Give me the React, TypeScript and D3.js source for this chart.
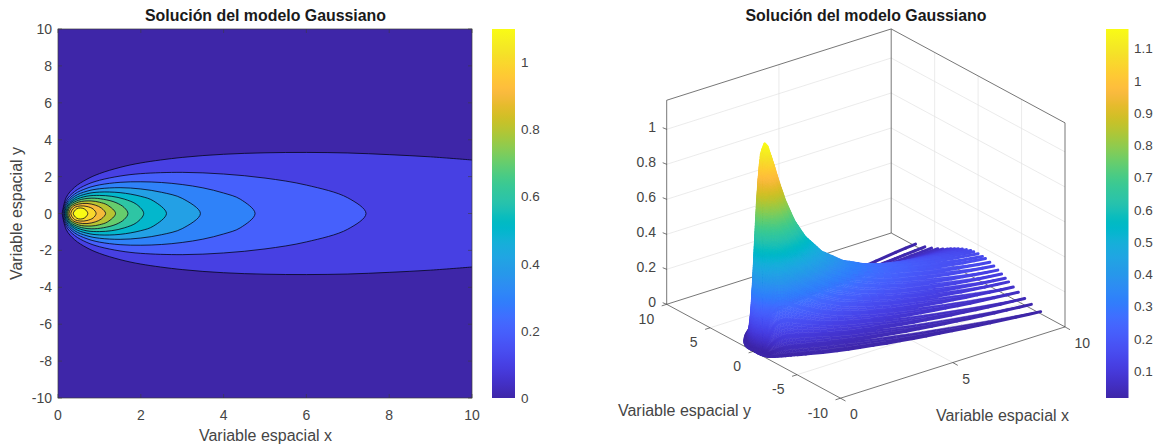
import React from "react";
import * as d3 from "d3";

// ---------- colour map ----------
const parula: number[][] = [
[0.2422,0.1504,0.6603],[0.2504,0.1650,0.7076],[0.2578,0.1818,0.7511],[0.2647,0.1978,0.7952],
[0.2706,0.2147,0.8364],[0.2751,0.2342,0.8710],[0.2783,0.2559,0.8991],[0.2803,0.2782,0.9221],
[0.2813,0.3006,0.9414],[0.2810,0.3228,0.9579],[0.2795,0.3447,0.9717],[0.2760,0.3667,0.9829],
[0.2699,0.3892,0.9906],[0.2602,0.4123,0.9952],[0.2440,0.4358,0.9988],[0.2206,0.4603,0.9973],
[0.1963,0.4847,0.9892],[0.1834,0.5074,0.9798],[0.1786,0.5289,0.9682],[0.1764,0.5499,0.9520],
[0.1687,0.5703,0.9359],[0.1540,0.5902,0.9218],[0.1460,0.6091,0.9079],[0.1380,0.6276,0.8973],
[0.1248,0.6459,0.8883],[0.1113,0.6635,0.8763],[0.0952,0.6798,0.8598],[0.0689,0.6948,0.8394],
[0.0297,0.7082,0.8163],[0.0036,0.7203,0.7917],[0.0067,0.7312,0.7660],[0.0433,0.7411,0.7394],
[0.0964,0.7500,0.7120],[0.1408,0.7584,0.6842],[0.1717,0.7670,0.6554],[0.1938,0.7758,0.6251],
[0.2161,0.7843,0.5923],[0.2470,0.7918,0.5567],[0.2906,0.7973,0.5188],[0.3406,0.8008,0.4789],
[0.3909,0.8029,0.4354],[0.4456,0.8024,0.3909],[0.5044,0.7993,0.3480],[0.5616,0.7942,0.3045],
[0.6174,0.7876,0.2612],[0.6720,0.7793,0.2227],[0.7242,0.7698,0.1910],[0.7738,0.7598,0.1646],
[0.8203,0.7498,0.1535],[0.8634,0.7406,0.1596],[0.9035,0.7330,0.1774],[0.9393,0.7288,0.2100],
[0.9728,0.7298,0.2394],[0.9956,0.7434,0.2371],[0.9970,0.7659,0.2199],[0.9952,0.7893,0.2028],
[0.9892,0.8136,0.1885],[0.9786,0.8386,0.1766],[0.9676,0.8639,0.1643],[0.9610,0.8890,0.1537],
[0.9597,0.9135,0.1423],[0.9628,0.9373,0.1265],[0.9691,0.9606,0.1064],[0.9769,0.9839,0.0805],
];

// ---------- left chart: contour levels and their upper half outlines [x, y] ----------
const contourLevels = [0.1, 0.2, 0.3, 0.4, 0.5, 0.6, 0.7, 0.8, 0.9, 1.0, 1.1];
const contourUpper: number[][][] = [
  [[0.1,0],[0.2,0.88],[0.4,1.42],[0.7,1.86],[1,2.16],[1.5,2.5],[2,2.74],[3,3.04],[4,3.21],[5,3.29],[6,3.31],[7,3.28],[8,3.19],[9,3.07],[10,2.9]],
  [[0.12,0],[0.2,0.7],[0.4,1.19],[0.7,1.57],[1,1.8],[1.5,2.03],[2,2.16],[3,2.23],[4,2.14],[5,1.92],[6,1.54],[7,0.85],[7.44,0]],
  [[0.137,0],[0.2,0.56],[0.4,1.05],[0.7,1.37],[1,1.55],[1.5,1.69],[2,1.72],[2.5,1.68],[3,1.57],[3.5,1.39],[4,1.11],[4.4,0.78],[4.76,0]],
  [[0.155,0],[0.2,0.445],[0.4,0.93],[0.7,1.21],[1,1.34],[1.5,1.4],[2,1.33],[2.5,1.15],[3,0.82],[3.44,0]],
  [[0.17,0],[0.2,0.33],[0.4,0.82],[0.7,1.07],[1,1.16],[1.5,1.13],[2,0.93],[2.3,0.69],[2.62,0]],
  [[0.19,0],[0.25,0.43],[0.4,0.72],[0.7,0.94],[1,0.98],[1.3,0.93],[1.6,0.78],[1.9,0.49],[2.07,0]],
  [[0.21,0],[0.3,0.47],[0.5,0.72],[0.8,0.83],[1.1,0.77],[1.4,0.59],[1.6,0.32],[1.69,0]],
  [[0.235,0],[0.3,0.37],[0.5,0.62],[0.8,0.68],[1,0.61],[1.2,0.45],[1.39,0]],
  [[0.265,0],[0.35,0.36],[0.5,0.51],[0.7,0.545],[0.9,0.455],[1.05,0.29],[1.15,0]],
  [[0.31,0],[0.4,0.32],[0.55,0.41],[0.7,0.38],[0.85,0.24],[0.92,0]],
  [[0.37,0],[0.45,0.25],[0.55,0.3],[0.65,0.23],[0.72,0]],
];

// ---------- right chart: surface strips ----------
const stripSampleX = [0.04,0.08,0.12,0.16,0.2,0.25,0.3,0.4,0.5,0.6,0.8,1,1.3,1.7,2.2,3,4,5,6,7,8,9,10];
const stripSpread = [0.11,0.145,0.17,0.191,0.209,0.229,0.246,0.276,0.302,0.325,0.364,0.398,0.442,0.492,0.546,0.618,0.693,0.758,0.815,0.867,0.915,0.959,1];
const stripEndY = [0,0.5,0.85,1.35,1.81,2.27,2.7,3.13,3.51,4.05,4.63,5.36,6.13,7.2];
const stripSolidUntil = [7,7,7,7,7,6,6,6,6,6,5,4,3,2.2];
const stripZ: number[][] = [
[.000,.038,.204,.434,.648,.855,.995,1.132,1.163,1.144,1.057,.958,.827,.692,.572,.446,.349,.286,.242,.210,.186,.166,.150],
[.000,.037,.198,.422,.631,.834,.971,1.106,1.137,1.120,1.036,.940,.812,.680,.563,.439,.344,.282,.239,.207,.184,.164,.148],
[.000,.035,.187,.401,.601,.795,.927,1.060,1.092,1.077,.998,.906,.785,.659,.546,.426,.335,.275,.233,.202,.179,.160,.145],
[.000,.030,.165,.355,.535,.711,.833,.958,.991,.980,.913,.833,.724,.610,.507,.398,.314,.258,.219,.191,.169,.152,.137],
[.000,.025,.139,.303,.458,.613,.721,.837,.871,.866,.813,.744,.651,.552,.460,.364,.289,.238,.203,.177,.157,.141,.128],
[.000,.020,.112,.246,.375,.507,.601,.705,.739,.738,.700,.645,.568,.485,.407,.324,.259,.214,.183,.161,.143,.129,.117],
[.000,.015,.087,.194,.299,.408,.488,.578,.612,.615,.590,.546,.485,.419,.354,.284,.229,.190,.163,.144,.128,.116,.106],
[.000,.011,.065,.148,.229,.316,.381,.460,.491,.498,.482,.450,.404,.352,.300,.243,.198,.165,.143,.126,.113,.102,.094],
[.000,.008,.048,.112,.176,.245,.299,.364,.394,.403,.395,.372,.337,.296,.254,.208,.171,.144,.125,.111,.099,.090,.083],
[.000,.005,.030,.072,.114,.162,.199,.250,.274,.284,.284,.271,.250,.224,.194,.161,.135,.114,.100,.089,.081,.074,.068],
[.000,.003,.017,.041,.067,.097,.122,.158,.177,.185,.190,.184,.174,.158,.139,.118,.101,.086,.076,.069,.062,.058,.054],
[.000,.001,.007,.018,.031,.046,.060,.080,.093,.100,.107,.105,.102,.096,.086,.075,.066,.058,.052,.047,.043,.040,.038],
[.000,.000,.002,.007,.012,.019,.025,.035,.043,.047,.052,.053,.053,.052,.048,.043,.039,.035,.032,.030,.027,.026,.025],
[.000,.000,.000,.001,.003,.004,.006,.010,.012,.014,.017,.018,.019,.019,.019,.018,.017,.016,.015,.014,.013,.013,.012],
];

// ---------- tick labels ----------
const leftXTicks = [0, 2, 4, 6, 8, 10];
const leftYTicks = [-10, -8, -6, -4, -2, 0, 2, 4, 6, 8, 10];
const leftBarTicks = [0, 0.2, 0.4, 0.6, 0.8, 1];
const rightBarTicks = [0.1, 0.2, 0.3, 0.4, 0.5, 0.6, 0.7, 0.8, 0.9, 1, 1.1];
const zTicks = [0, 0.2, 0.4, 0.6, 0.8, 1];
const xTicks3d = [0, 5, 10];
const yTicks3d = [-10, -5, 0, 5, 10];
const title = "Solución del modelo Gaussiano";
const xLabel = "Variable espacial x";
const yLabel = "Variable espacial y";

const FONT = "'Liberation Sans', Arial, sans-serif";
const TEXT = "#454545";
const AXIS = "#3c3c3c";

const cmapDomain = parula.map((_, i) => i / (parula.length - 1));
const cmap = d3.scaleLinear<string>()
  .domain(cmapDomain)
  .range(parula.map(([r, g, b]) => d3.rgb(r * 255, g * 255, b * 255).formatHex()))
  .interpolate(d3.interpolateRgb)
  .clamp(true);

// left scales
const lx = d3.scaleLinear().domain([0, 10]).range([58, 472]);
const ly = d3.scaleLinear().domain([-10, 10]).range([398, 29]);
const leftBar = d3.scaleLinear().domain([0, 1.098]).range([398, 29]);
const rightBar = d3.scaleLinear().domain([0.016, 1.16]).range([398, 29]);
const zColor = (z: number) => cmap((z - 0.016) / (1.16 - 0.016));
const levelColor = (l: number) => cmap(l / 1.098);

// right projection (orthographic view of the box)
const ZMAX = 1.166;
const px = d3.scaleLinear().domain([0, 10]).range([0, 224.5]);
const pxy = d3.scaleLinear().domain([0, 10]).range([0, -71.3]);
const py = d3.scaleLinear().domain([10, -10]).range([666.7, 840.5]);
const pyy = d3.scaleLinear().domain([10, -10]).range([304.3, 398.2]);
const pz = d3.scaleLinear().domain([0, 1]).range([0, -175]);
const P = (x: number, y: number, z: number): [number, number] => [py(y) + px(x), pyy(y) + pxy(x) + pz(z)];

function contourPath(pts: number[][]): string {
  const line = d3.line<number[]>().x((p) => lx(p[0])).y((p) => ly(p[1]));
  const last = pts[pts.length - 1];
  const mirror = pts.slice().reverse().map((p) => [p[0], -p[1]]);
  if (last[1] !== 0) {
    const upper = line.curve(d3.curveCatmullRom)(pts) as string;
    const lower = line.curve(d3.curveCatmullRom)(mirror) as string;
    return upper + lower;
  }
  return line.curve(d3.curveCatmullRomClosed.alpha(0.5))([...pts, ...mirror.slice(1, -1)]) as string;
}

function openFill(pts: number[][]): string {
  const line = d3.line<number[]>().x((p) => lx(p[0])).y((p) => ly(p[1])).curve(d3.curveCatmullRom);
  const mirror = pts.slice().reverse().map((p) => [p[0], -p[1]]);
  const upper = line(pts) as string;
  const lower = line(mirror) as string;
  return upper + "L" + lower.slice(1) + "Z";
}

function Seg3({ a, b, stroke, w = 0.7 }: { a: number[]; b: number[]; stroke: string; w?: number }) {
  const [x1, y1] = P(a[0], a[1], a[2]);
  const [x2, y2] = P(b[0], b[1], b[2]);
  return <line x1={x1} y1={y1} x2={x2} y2={y2} stroke={stroke} strokeWidth={w} />;
}

function surfaceSegments() {
  const out: React.ReactNode[] = [];
  type R = { s: number; j: number };
  const signed: R[] = [];
  stripEndY.forEach((_, j) => { if (j > 0) signed.push({ s: 1, j }); });
  signed.reverse();
  stripEndY.forEach((_, j) => signed.push({ s: -1, j }));

  const yAt = (r: R, i: number) => r.s * stripEndY[r.j] * stripSpread[i];
  const zAt = (r: R, i: number) => stripZ[r.j][i];

  const strip = (r: R, key: string) => {
    for (let i = stripSampleX.length - 1; i > 0; i--) {
      const SUB = Math.min(8, Math.ceil(Math.abs(zAt(r, i) - zAt(r, i - 1)) / 0.02) + 1);
      const ix = d3.interpolateNumber(stripSampleX[i], stripSampleX[i - 1]);
      const iy = d3.interpolateNumber(yAt(r, i), yAt(r, i - 1));
      const iz = d3.interpolateNumber(zAt(r, i), zAt(r, i - 1));
      for (let k = 0; k < SUB; k++) {
        const t0 = k / SUB, t1 = (k + 1) / SUB;
        const [x1, y1] = P(ix(t0), iy(t0), iz(t0));
        const [x2, y2] = P(ix(t1), iy(t1), iz(t1));
        out.push(
          <line key={`${key}-${i}-${k}`} x1={x1} y1={y1} x2={x2} y2={y2}
            stroke={zColor(iz((t0 + t1) / 2))} strokeWidth={3} strokeLinecap="round" />
        );
      }
    }
  };

  // Band between two neighbouring strips; beyond its solid limit a white wedge opens on the far side.
  const band = (a: R, b: R, key: string) => {
    const limit = stripSolidUntil[Math.max(a.j, b.j)];
    const gap = d3.scaleLinear().domain([limit, 10]).range([0, 0.95]).clamp(true);
    for (let i = stripSampleX.length - 1; i > 0; i--) {
      const corner = (r: R, o: R, n: number) => {
        const g = r === a ? gap(stripSampleX[n]) : 0;
        return {
          x: stripSampleX[n],
          y: yAt(r, n) + g * (yAt(o, n) - yAt(r, n)),
          z: zAt(r, n) + g * (zAt(o, n) - zAt(r, n)),
        };
      };
      const corners = [corner(a, b, i), corner(a, b, i - 1), corner(b, a, i), corner(b, a, i - 1)];
      const nu = Math.min(8, Math.ceil(Math.max(Math.abs(corners[0].z - corners[1].z), Math.abs(corners[2].z - corners[3].z)) / 0.02) + 1);
      const nv = Math.min(8, Math.ceil(Math.max(Math.abs(corners[0].z - corners[2].z), Math.abs(corners[1].z - corners[3].z)) / 0.02) + 1);
      const at = (u: number, v: number) => {
        const mix = (f: "x" | "y" | "z") =>
          (1 - v) * ((1 - u) * corners[0][f] + u * corners[1][f]) + v * ((1 - u) * corners[2][f] + u * corners[3][f]);
        return { x: mix("x"), y: mix("y"), z: mix("z") };
      };
      for (let q = 0; q < nv; q++) {
        for (let k = 0; k < nu; k++) {
          const c = [at(k / nu, q / nv), at((k + 1) / nu, q / nv), at((k + 1) / nu, (q + 1) / nv), at(k / nu, (q + 1) / nv)];
          const pts = c.map((p) => P(p.x, p.y, p.z).join(",")).join(" ");
          const col = zColor(at((k + 0.5) / nu, (q + 0.5) / nv).z);
          out.push(<polygon key={`${key}-${i}-${q}-${k}`} points={pts} fill={col} stroke={col} strokeWidth={0.5} />);
        }
      }
    }
  };

  signed.forEach((r, n) => {
    if (n > 0) band(signed[n - 1], r, `b${n}`);
    strip(r, `s${n}`);
  });
  return out;
}

export default function App() {
  const grid = "#e2e2e2";
  const Y0 = 10, Y1 = -10;
  return (
    <svg width={1155} height={446} viewBox="0 0 1155 446"
      style={{ position: "fixed", left: 0, top: 0, background: "#fff" }} fontFamily={FONT}>
      <defs>
        <clipPath id="plotClip"><rect x={58} y={29} width={414} height={369} /></clipPath>
        <linearGradient id="barGrad" x1="0" y1="1" x2="0" y2="0">
          {parula.map(([r, g, b], i) => (
            <stop key={i} offset={i / (parula.length - 1)} stopColor={d3.rgb(r * 255, g * 255, b * 255).formatHex()} />
          ))}
        </linearGradient>
      </defs>

      {/* ---------- left chart ---------- */}
      <rect x={58} y={29} width={414} height={369} fill={levelColor(0)} />
      <g clipPath="url(#plotClip)">
        {contourUpper.map((pts, i) => {
          const open = pts[pts.length - 1][1] !== 0;
          if (open) {
            return (
              <g key={i}>
                <path d={openFill(pts)} fill={levelColor(contourLevels[i])} stroke="none" />
                <path d={contourPath(pts)} fill="none" stroke="#05051a" strokeWidth={0.8} />
              </g>
            );
          }
          return <path key={i} d={contourPath(pts)} fill={levelColor(contourLevels[i])} stroke="#05051a" strokeWidth={0.8} />;
        })}
      </g>
      <rect x={58} y={29} width={414} height={369} fill="none" stroke={AXIS} strokeWidth={0.7} />
      {leftXTicks.map((t) => (
        <g key={t}>
          <line x1={lx(t)} x2={lx(t)} y1={398} y2={394} stroke={AXIS} strokeWidth={0.6} />
          <line x1={lx(t)} x2={lx(t)} y1={29} y2={33} stroke={AXIS} strokeWidth={0.6} />
          <text x={lx(t)} y={420} fontSize={14} fill={TEXT} textAnchor="middle">{t}</text>
        </g>
      ))}
      {leftYTicks.map((t) => (
        <g key={t}>
          <line x1={58} x2={62} y1={ly(t)} y2={ly(t)} stroke={AXIS} strokeWidth={0.6} />
          <line x1={472} x2={468} y1={ly(t)} y2={ly(t)} stroke={AXIS} strokeWidth={0.6} />
          <text x={52} y={ly(t) + 5} fontSize={14} fill={TEXT} textAnchor="end">{t}</text>
        </g>
      ))}
      <text x={265.5} y={21} fontSize={15.9} fontWeight="bold" fill="#1a1a1a" textAnchor="middle">{title}</text>
      <text x={265.5} y={441} fontSize={16} fill={TEXT} textAnchor="middle">{xLabel}</text>
      <text transform="translate(21.5,213.5) rotate(-90)" fontSize={16} fill={TEXT} textAnchor="middle">{yLabel}</text>

      <rect x={492} y={29} width={23} height={369} fill="url(#barGrad)" />
      {leftBarTicks.map((t) => (
        <text key={t} x={521} y={leftBar(t) + 5} fontSize={13.5} fill={TEXT}>{t}</text>
      ))}

      {/* ---------- right chart: box and grid ---------- */}
      <g>
        {zTicks.slice(1).map((z) => (
          <g key={z}>
            <Seg3 a={[0, Y0, z]} b={[10, Y0, z]} stroke={grid} />
            <Seg3 a={[10, Y0, z]} b={[10, Y1, z]} stroke={grid} />
          </g>
        ))}
        <Seg3 a={[5, Y0, 0]} b={[5, Y0, ZMAX]} stroke={grid} />
        <Seg3 a={[5, Y0, 0]} b={[5, Y1, 0]} stroke={grid} />
        {[5, 0, -5].map((y) => (
          <g key={y}>
            <Seg3 a={[10, y, 0]} b={[10, y, ZMAX]} stroke={grid} />
            <Seg3 a={[0, y, 0]} b={[10, y, 0]} stroke={grid} />
          </g>
        ))}
        <Seg3 a={[0, Y0, 0]} b={[0, Y0, ZMAX]} stroke={AXIS} />
        <Seg3 a={[10, Y0, 0]} b={[10, Y0, ZMAX]} stroke={AXIS} />
        <Seg3 a={[10, Y1, 0]} b={[10, Y1, ZMAX]} stroke={AXIS} />
        <Seg3 a={[0, Y0, ZMAX]} b={[10, Y0, ZMAX]} stroke={AXIS} />
        <Seg3 a={[10, Y0, ZMAX]} b={[10, Y1, ZMAX]} stroke={AXIS} />
        <Seg3 a={[0, Y0, 0]} b={[10, Y0, 0]} stroke={AXIS} />
        <Seg3 a={[10, Y0, 0]} b={[10, Y1, 0]} stroke={AXIS} />
        <Seg3 a={[0, Y0, 0]} b={[0, Y1, 0]} stroke={AXIS} />
        <Seg3 a={[0, Y1, 0]} b={[10, Y1, 0]} stroke={AXIS} />
      </g>

      {/* surface */}
      <g>{surfaceSegments()}</g>

      {/* 3D ticks and labels */}
      {zTicks.map((z) => {
        const [x, y] = P(0, Y0, z);
        return (
          <g key={z}>
            <line x1={x} y1={y} x2={x - 4} y2={y - 1.6} stroke={AXIS} strokeWidth={0.7} />
            <text x={656} y={y + 2.5} fontSize={14} fill={TEXT} textAnchor="end">{z}</text>
          </g>
        );
      })}
      {yTicks3d.map((t) => {
        const [x, y] = P(0, t, 0);
        return (
          <g key={t}>
            <line x1={x} y1={y} x2={x - 5} y2={y + 1.6} stroke={AXIS} strokeWidth={0.7} />
            <text x={x - 12.5} y={y + 19.5} fontSize={14} fill={TEXT} textAnchor="end">{t}</text>
          </g>
        );
      })}
      {xTicks3d.map((t) => {
        const [x, y] = P(t, Y1, 0);
        return (
          <g key={t}>
            <line x1={x} y1={y} x2={x + 5} y2={y + 2.8} stroke={AXIS} strokeWidth={0.7} />
            <text x={x + 9.5} y={y + 21} fontSize={14} fill={TEXT} textAnchor="start">{t}</text>
          </g>
        );
      })}
      <text x={866} y={21} fontSize={15.9} fontWeight="bold" fill="#1a1a1a" textAnchor="middle">{title}</text>
      <text x={684.5} y={416} fontSize={16} fill={TEXT} textAnchor="middle">{yLabel}</text>
      <text x={1002.5} y={421} fontSize={16} fill={TEXT} textAnchor="middle">{xLabel}</text>

      <rect x={1106} y={29} width={22.5} height={369} fill="url(#barGrad)" />
      {rightBarTicks.map((t) => (
        <text key={t} x={1134} y={rightBar(t) + 5} fontSize={13.5} fill={TEXT}>{t}</text>
      ))}
    </svg>
  );
}
